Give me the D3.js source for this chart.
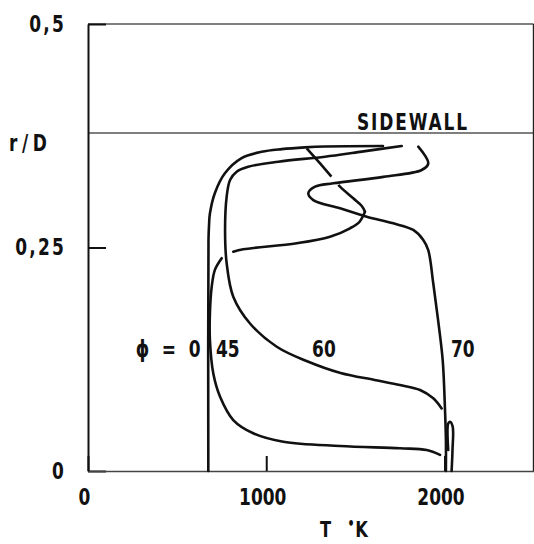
<!DOCTYPE html>
<html>
<head>
<meta charset="utf-8">
<script src="https://cdn.jsdelivr.net/npm/d3@7"></script>
<style>
  body { margin: 0; background: #fff; }
  svg { display: block; }
  text { font-family: "DejaVu Sans", sans-serif; font-weight: bold; fill: #111; }
</style>
</head>
<body>
<div id="chart"></div>
<script>
// axis ticks
var tempTicks = [0, 1000, 2000];
var radTicks = [0, 0.25, 0.5];
var sidewall = 0.378;

// phi = 0
var phi0T = [675, 676, 679, 684, 712, 768, 862, 974, 1087, 1217, 1330, 1655];
var phi0R = [0, 0.258, 0.275, 0.288, 0.311, 0.333, 0.350, 0.357, 0.360, 0.362, 0.363, 0.3635];

// phi = 45 (null = break in the trace)
var phi45T = [1975, 1900, 1750, 1414, 1096, 927, 815, 741, 703, 684, 684, 694, 712, 750,
              null, 815, 871, 1171, 1358, 1470, 1522, 1554,
              null, 2021, 2021, 2031, 2046, 2045, 2040];
var phi45R = [0.018, 0.0235, 0.0254, 0.028, 0.0328, 0.0422, 0.057, 0.083, 0.109, 0.1465, 0.1764, 0.206, 0.225, 0.238,
              null, 0.2453, 0.248, 0.2547, 0.262, 0.2715, 0.2785, 0.290,
              null, 0.0235, 0.053, 0.055, 0.0496, 0.0235, 0];
// phi = 45, dashed part near the wall
var phi45dashT = [1554, 1536, 1488, 1414, 1367, 1302, 1227];
var phi45dashR = [0.290, 0.2964, 0.305, 0.318, 0.329, 0.344, 0.361];

// phi = 60
var phi60T = [1760, 1526, 1330, 1068, 899, 834, 797, 778, 769, 778, 815, 909, 1059, 1226, 1417, 1608, 1750, 1863, 1937, 1984];
var phi60R = [0.3635, 0.357, 0.3516, 0.346, 0.3404, 0.3348, 0.3255, 0.307, 0.2696, 0.2323, 0.195, 0.165, 0.139, 0.123, 0.1096, 0.1018, 0.0962, 0.0906, 0.0813, 0.070];

// phi = 70
var phi70T = [1853, 1909, 1872, 1657, 1376, 1274, 1236, 1264, 1414, 1564, 1713, 1825, 1881, 1909, 1937, 1964, 1990, 2003, 2008, 2008];
var phi70R = [0.3628, 0.344, 0.3367, 0.329, 0.3218, 0.318, 0.3106, 0.303, 0.2938, 0.2845, 0.277, 0.2696, 0.2584, 0.247, 0.21, 0.169, 0.124, 0.068, 0.035, 0];

var SQ = 0.74; // horizontal squeeze for the narrow lettering

var svg = d3.select("#chart").append("svg")
    .attr("width", 534)
    .attr("height", 544);

var x = d3.scaleLinear().domain([0, 2500]).range([88, 533.6]);
var y = d3.scaleLinear().domain([0, 0.5]).range([471, 24]);

function pts(ts, rs) {
    return ts.map(function (t, i) { return t === null ? null : [t, rs[i]]; });
}

var line = d3.line()
    .defined(function (d) { return d !== null; })
    .x(function (d) { return x(d[0]); })
    .y(function (d) { return y(d[1]); })
    .curve(d3.curveCatmullRom.alpha(0.5));

// narrow text placed at px, py
function label(px, py, str, anchor, size) {
    return svg.append("g")
        .attr("transform", "translate(" + px + "," + py + ") scale(" + SQ + ",1)")
        .append("text")
        .attr("text-anchor", anchor || "start")
        .style("font-size", (size || 23) + "px")
        .text(str);
}

// frame
svg.append("line").attr("x1", x(0)).attr("x2", x(2500)).attr("y1", y(0.5)).attr("y2", y(0.5))
    .attr("stroke", "#555").attr("stroke-width", 1.5);
svg.append("line").attr("x1", x(0)).attr("x2", x(2500)).attr("y1", y(sidewall)).attr("y2", y(sidewall))
    .attr("stroke", "#555").attr("stroke-width", 1.5);
svg.append("line").attr("x1", x(2500)).attr("x2", x(2500)).attr("y1", y(0.5)).attr("y2", y(0))
    .attr("stroke", "#222").attr("stroke-width", 1.6);

var yAxis = d3.axisLeft(y)
    .tickValues(radTicks)
    .tickSizeInner(-18)
    .tickSizeOuter(0)
    .tickPadding(22)
    .tickFormat(function (d) { return d === 0 ? "0" : String(d).replace(".", ","); });

var xAxis = d3.axisBottom(x)
    .tickValues(tempTicks)
    .tickSizeInner(-15)
    .tickSizeOuter(0)
    .tickPadding(18)
    .tickFormat(d3.format("d"));

var gY = svg.append("g").attr("transform", "translate(" + x(0) + ",0)").call(yAxis);
var gX = svg.append("g").attr("transform", "translate(0," + y(0) + ")").call(xAxis);

[gX, gY].forEach(function (g) {
    g.select(".domain").attr("stroke", "#111").attr("stroke-width", 2);
    g.selectAll(".tick line").attr("stroke", "#111").attr("stroke-width", 2);
    g.selectAll(".tick text")
        .attr("font-family", null).attr("font-size", null)
        .style("font-size", "23px").attr("fill", "#111")
        .attr("transform", "scale(" + SQ + ",1)");
});
gX.select(".domain").attr("stroke", "#444").attr("stroke-width", 1.6);
gX.selectAll(".tick text").attr("x", -4 / SQ);
gY.selectAll(".tick text").attr("x", -22 / SQ).style("letter-spacing", "3px");

// curves
var curves = svg.append("g").attr("fill", "none").attr("stroke", "#111")
    .attr("stroke-width", 2.6).attr("stroke-linejoin", "round").attr("stroke-linecap", "round");

[pts(phi0T, phi0R), pts(phi45T, phi45R), pts(phi60T, phi60R), pts(phi70T, phi70R)].forEach(function (p) {
    curves.append("path").attr("d", line(p));
});
curves.append("path")
    .attr("d", line(pts(phi45dashT, phi45dashR)))
    .attr("stroke-dasharray", "38,11")
    .attr("stroke-linecap", "butt");

// labels
label(357, y(sidewall) - 3, "SIDEWALL").attr("textLength", 110 / SQ).attr("lengthAdjust", "spacing");
label(9, 151, "r/D").attr("textLength", 38 / SQ).attr("lengthAdjust", "spacing");

var tLabel = label(320, 537, "", "start", 22);
tLabel.append("tspan").text("T");
tLabel.append("tspan").attr("dx", 22).attr("dy", -8).style("font-size", "15px").text("•");
tLabel.append("tspan").attr("dx", 1).attr("dy", 8).text("K");

var phiLabels = [
    { t: 632, r: 0.127, s: "ϕ = 0", anchor: "end", len: 65 },
    { t: 718, r: 0.127, s: "45", anchor: "start" },
    { t: 1257, r: 0.127, s: "60", anchor: "start" },
    { t: 2036, r: 0.127, s: "70", anchor: "start" }
];
phiLabels.forEach(function (d) {
    var t = label(x(d.t), y(d.r), d.s, d.anchor);
    if (d.len) t.attr("textLength", d.len / SQ).attr("lengthAdjust", "spacing");
});
</script>
</body>
</html>
